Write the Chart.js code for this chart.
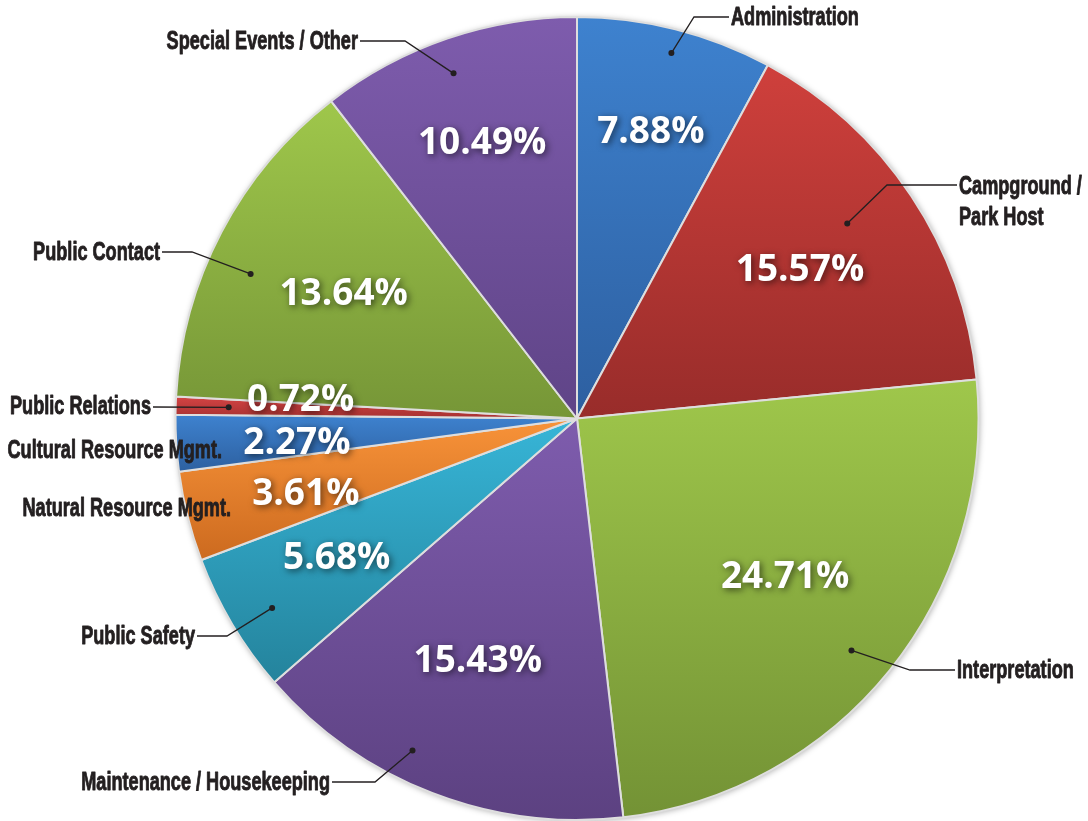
<!DOCTYPE html>
<html>
<head>
<meta charset="utf-8">
<script src="https://cdn.jsdelivr.net/npm/chart.js@4.4.1/dist/chart.umd.min.js"></script>
<style>
html,body{margin:0;padding:0;background:#fff;}
#wrap{width:1088px;height:821px;}
</style>
</head>
<body>
<div id="wrap"><canvas id="c" width="1088" height="821"></canvas></div>
<script>
// ---- data ----
const categories = ['Administration','Campground / Park Host','Interpretation','Maintenance / Housekeeping','Public Safety','Natural Resource Mgmt.','Cultural Resource Mgmt.','Public Relations','Public Contact','Special Events / Other'];
const shares = [7.88, 15.57, 24.71, 15.43, 5.68, 3.61, 2.27, 0.72, 13.64, 10.49];

// ---- styles ----
const topColors    = ['#3e82cf','#cf403c','#9fc74b','#7e5cad','#37b5d7','#f89339','#3e82cf','#d44444','#9fc74b','#7e5cad'];
const bottomColors = ['#2d5fa0','#982c2a','#739235','#5c4181','#24839c','#cc6a1f','#2d60a0','#a63131','#769637','#5f4487'];
const pctRadius = [0.74,0.67,0.65,0.65,0.69,0.70,0.70,0.69,0.66,0.73];
const pctAngleOffset = [0.2,-0.4,-1.8,1.2,1.0,-1.1,-1.2,2.3,0.6,0];
const labelLines = [['Administration'],['Campground /','Park Host'],['Interpretation'],['Maintenance / Housekeeping'],['Public Safety'],['Natural Resource Mgmt.'],['Cultural Resource Mgmt.'],['Public Relations'],['Public Contact'],['Special Events / Other']];
// annotation layout (leader lines): dot polar position relative to slice, elbow, line end, text anchor
const leaders = [
  {dotR:0.94, dA:0.3,  elbow:[694,17],  end:[729,17],  tx:731, ty:17,  align:'left'},
  {dotR:0.83, dA:-2.2, elbow:[887,185], end:[957,185], tx:959, ty:186, align:'left', lh:31},
  {dotR:0.895,dA:1.3,  elbow:[910,670], end:[955,670], tx:957, ty:670, align:'left'},
  {dotR:0.923,dA:5.2,  elbow:[375,782], end:[332,782], tx:330, ty:782, align:'right'},
  {dotR:0.894,dA:-1.0, elbow:[227,636], end:[197,636], tx:195, ty:636, align:'right'},
  {dotR:null, tx:231, ty:508, align:'right'},
  {dotR:null, tx:222, ty:450, align:'right'},
  {dotR:0.868,dA:0,    elbow:null,      end:[153,407], tx:151, ty:406, align:'right'},
  {dotR:0.889,dA:-3.8, elbow:[192,252], end:[162,252], tx:160, ty:252, align:'right'},
  {dotR:0.913,dA:-0.8, elbow:[405,41],  end:[360,41],  tx:358, ty:41,  align:'right'}
];
const labelFont = 'bold 25px "Liberation Sans", Arial, sans-serif';
const labelSquash = 0.725;
const pctFont = 'bold 37px "Open Sans", "Noto Sans", sans-serif';

function sliceGradient(context){
  const chart = context.chart;
  const ca = chart.chartArea;
  const i = context.dataIndex;
  if (!ca) return topColors[i];
  const cx = (ca.left+ca.right)/2, cy = (ca.top+ca.bottom)/2;
  const r = Math.min(ca.right-ca.left, ca.bottom-ca.top)/2;
  const total = shares.reduce((a,b)=>a+b,0);
  let cum = 0; for (let k=0;k<i;k++) cum += shares[k];
  const a0 = -Math.PI/2 + cum/total*2*Math.PI;
  const a1 = a0 + shares[i]/total*2*Math.PI;
  let ys = [cy, cy+r*Math.sin(a0), cy+r*Math.sin(a1)];
  for (let k=-2;k<=4;k++){ const a = k*Math.PI/2; if (a>a0 && a<a1) ys.push(cy+r*Math.sin(a)); }
  const ymin = Math.min(...ys), ymax = Math.max(...ys);
  const g = chart.ctx.createLinearGradient(0, ymin, 0, ymax);
  g.addColorStop(0, topColors[i]);
  g.addColorStop(1, bottomColors[i]);
  return g;
}

const shadowPlugin = {
  id:'pieShadow',
  beforeDatasetsDraw(chart){
    const arc = chart.getDatasetMeta(0).data[0];
    if (!arc) return;
    const ctx = chart.ctx;
    ctx.save();
    ctx.shadowColor = 'rgba(0,0,0,0.35)';
    ctx.shadowBlur = 6;
    ctx.shadowOffsetX = 1; ctx.shadowOffsetY = 1;
    ctx.fillStyle = '#ffffff';
    ctx.beginPath(); ctx.arc(arc.x, arc.y, arc.outerRadius, 0, Math.PI*2); ctx.fill();
    ctx.restore();
  }
};

function drawCondensed(ctx, text, x, y, align){
  ctx.save();
  ctx.translate(x, y);
  ctx.scale(labelSquash, 1);
  ctx.textAlign = align;
  ctx.lineWidth = 0.9; ctx.lineJoin = 'round';
  ctx.strokeText(text, 0, 0);
  ctx.fillText(text, 0, 0);
  ctx.restore();
}

const labelPlugin = {
  id:'sliceLabels',
  afterDatasetsDraw(chart){
    const ctx = chart.ctx;
    const meta = chart.getDatasetMeta(0);
    meta.data.forEach((arc,i)=>{
      const p = arc.getProps(['x','y','startAngle','endAngle','outerRadius'], true);
      const mid = (p.startAngle+p.endAngle)/2;
      const L = leaders[i];
      ctx.save();
      ctx.strokeStyle = '#231f20'; ctx.fillStyle = '#231f20'; ctx.lineWidth = 1.3;
      if (L.dotR){
        const a = mid + L.dA*Math.PI/180;
        const dx = p.x + Math.cos(a)*p.outerRadius*L.dotR;
        const dy = p.y + Math.sin(a)*p.outerRadius*L.dotR;
        ctx.beginPath(); ctx.moveTo(dx,dy);
        if (L.elbow) ctx.lineTo(L.elbow[0], L.elbow[1]);
        ctx.lineTo(L.end[0], L.end[1]); ctx.stroke();
        ctx.beginPath(); ctx.arc(dx,dy,3,0,Math.PI*2); ctx.fill();
      }
      ctx.font = labelFont; ctx.textBaseline = 'middle';
      labelLines[i].forEach((t,k)=>{ drawCondensed(ctx, t, L.tx, L.ty + 1 + k*(L.lh||0), L.align); });
      ctx.restore();
    });
    meta.data.forEach((arc,i)=>{
      const p = arc.getProps(['x','y','startAngle','endAngle','outerRadius'], true);
      const a = (p.startAngle+p.endAngle)/2 + pctAngleOffset[i]*Math.PI/180;
      const x = p.x + Math.cos(a)*p.outerRadius*pctRadius[i];
      const y = p.y + Math.sin(a)*p.outerRadius*pctRadius[i];
      ctx.save();
      ctx.font = pctFont; ctx.textAlign = 'center'; ctx.textBaseline = 'middle';
      ctx.shadowColor = 'rgba(0,0,0,0.6)'; ctx.shadowBlur = 7; ctx.shadowOffsetX = 2; ctx.shadowOffsetY = 2;
      ctx.fillStyle = '#ffffff';
      ctx.fillText(shares[i].toFixed(2)+'%', x, y+2);
      ctx.restore();
    });
  }
};

new Chart(document.getElementById('c'), {
  type:'pie',
  data:{ labels:categories, datasets:[{ data:shares, backgroundColor:sliceGradient, borderColor:'#dedede', borderWidth:2 }] },
  options:{
    responsive:false, devicePixelRatio:1, animation:false,
    layout:{ padding:{ left:174, right:108, top:16, bottom:0 } },
    plugins:{ legend:{display:false}, tooltip:{enabled:false} }
  },
  plugins:[shadowPlugin, labelPlugin]
});
</script>
</body>
</html>
